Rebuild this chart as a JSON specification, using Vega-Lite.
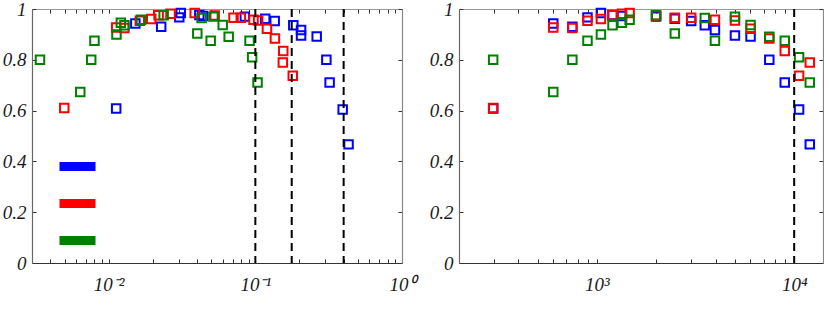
{
  "$schema": "https://vega.github.io/schema/vega-lite/v6.json",
  "autosize": {"type": "pad"},
  "padding": {"left": 2, "top": 0, "right": 0, "bottom": 0},
  "background": "white",
  "bounds": "flush",
  "spacing": 57,
  "config": {
    "view": {"stroke": null},
    "axis": {
      "grid": false,
      "labelFont": "Liberation Serif",
      "labelFontStyle": "italic",
      "labelFontSize": 19,
      "labelColor": "#1a1a1a",
      "labelFlush": false,
      "labelOverlap": false,
      "tickSize": -4,
      "tickColor": "#333333",
      "tickWidth": 1,
      "domainWidth": 1.2
    }
  },
  "datasets": {
    "points": [
      {"s": "Case 1", "ratio": 0.01125, "re": 298, "eff": 0.608},
      {"s": "Case 1", "ratio": 0.0152, "re": 601, "eff": 0.943},
      {"s": "Case 1", "ratio": 0.0228, "re": 751, "eff": 0.93},
      {"s": "Case 1", "ratio": 0.0303, "re": 896, "eff": 0.967},
      {"s": "Case 1", "ratio": 0.031, "re": 1048, "eff": 0.984},
      {"s": "Case 1", "ratio": 0.0415, "re": 1200, "eff": 0.976},
      {"s": "Case 1", "ratio": 0.044, "re": 1340, "eff": 0.972},
      {"s": "Case 1", "ratio": 0.0848, "re": 1995, "eff": 0.97},
      {"s": "Case 1", "ratio": 0.1167, "re": 2483, "eff": 0.962},
      {"s": "Case 1", "ratio": 0.1355, "re": 3006, "eff": 0.953},
      {"s": "Case 1", "ratio": 0.1815, "re": 3524, "eff": 0.936},
      {"s": "Case 1", "ratio": 0.205, "re": 3966, "eff": 0.917},
      {"s": "Case 1", "ratio": 0.205, "re": 5010, "eff": 0.896},
      {"s": "Case 1", "ratio": 0.262, "re": 6010, "eff": 0.892},
      {"s": "Case 1", "ratio": 0.305, "re": 7480, "eff": 0.8},
      {"s": "Case 1", "ratio": 0.321, "re": 8960, "eff": 0.711},
      {"s": "Case 1", "ratio": 0.394, "re": 10590, "eff": 0.604},
      {"s": "Case 1", "ratio": 0.432, "re": 12000, "eff": 0.467},
      {"s": "Case 2", "ratio": 0.00498, "re": 298, "eff": 0.61},
      {"s": "Case 2", "ratio": 0.01125, "re": 601, "eff": 0.927},
      {"s": "Case 2", "ratio": 0.0128, "re": 751, "eff": 0.925},
      {"s": "Case 2", "ratio": 0.0163, "re": 896, "eff": 0.954},
      {"s": "Case 2", "ratio": 0.0195, "re": 1048, "eff": 0.961},
      {"s": "Case 2", "ratio": 0.0219, "re": 1200, "eff": 0.975},
      {"s": "Case 2", "ratio": 0.0264, "re": 1340, "eff": 0.981},
      {"s": "Case 2", "ratio": 0.0386, "re": 1465, "eff": 0.984},
      {"s": "Case 2", "ratio": 0.0528, "re": 1995, "eff": 0.974},
      {"s": "Case 2", "ratio": 0.071, "re": 2483, "eff": 0.966},
      {"s": "Case 2", "ratio": 0.0796, "re": 3006, "eff": 0.966},
      {"s": "Case 2", "ratio": 0.0972, "re": 3966, "eff": 0.958},
      {"s": "Case 2", "ratio": 0.1045, "re": 5010, "eff": 0.955},
      {"s": "Case 2", "ratio": 0.12, "re": 6010, "eff": 0.922},
      {"s": "Case 2", "ratio": 0.136, "re": 7480, "eff": 0.884},
      {"s": "Case 2", "ratio": 0.155, "re": 8960, "eff": 0.835},
      {"s": "Case 2", "ratio": 0.154, "re": 12000, "eff": 0.789},
      {"s": "Case 2", "ratio": 0.18, "re": 10590, "eff": 0.737},
      {"s": "Case 3", "ratio": 0.0034, "re": 298, "eff": 0.8},
      {"s": "Case 3", "ratio": 0.0064, "re": 601, "eff": 0.673},
      {"s": "Case 3", "ratio": 0.0076, "re": 751, "eff": 0.8},
      {"s": "Case 3", "ratio": 0.008, "re": 896, "eff": 0.875},
      {"s": "Case 3", "ratio": 0.0113, "re": 1048, "eff": 0.9},
      {"s": "Case 3", "ratio": 0.0121, "re": 1340, "eff": 0.946},
      {"s": "Case 3", "ratio": 0.0128, "re": 1200, "eff": 0.936},
      {"s": "Case 3", "ratio": 0.0166, "re": 1465, "eff": 0.958},
      {"s": "Case 3", "ratio": 0.0237, "re": 1995, "eff": 0.975},
      {"s": "Case 3", "ratio": 0.0402, "re": 2483, "eff": 0.904},
      {"s": "Case 3", "ratio": 0.043, "re": 3524, "eff": 0.965},
      {"s": "Case 3", "ratio": 0.0496, "re": 3966, "eff": 0.875},
      {"s": "Case 3", "ratio": 0.0518, "re": 5010, "eff": 0.97},
      {"s": "Case 3", "ratio": 0.0599, "re": 6010, "eff": 0.937},
      {"s": "Case 3", "ratio": 0.0658, "re": 7480, "eff": 0.891},
      {"s": "Case 3", "ratio": 0.0913, "re": 8960, "eff": 0.875},
      {"s": "Case 3", "ratio": 0.0951, "re": 10590, "eff": 0.81},
      {"s": "Case 3", "ratio": 0.1035, "re": 12000, "eff": 0.711}
    ],
    "limitsRatio": [{"ratio": 0.1}, {"ratio": 0.177}, {"ratio": 0.4}],
    "limitsRe": [{"re": 10000}]
  },
  "resolve": {"scale": {"color": "independent"}},
  "hconcat": [
    {
      "width": 370,
      "height": 254,
      "resolve": {"axis": {"x": "independent", "y": "independent"}},
      "layer": [
        {
          "data": {"name": "points"},
          "mark": {"type": "point", "shape": "square", "filled": false, "strokeWidth": 2, "size": 72, "opacity": 1},
          "encoding": {
            "x": {
              "field": "ratio", "type": "quantitative",
              "scale": {"type": "log", "domain": [0.003, 1], "nice": false},
              "axis": {
                "orient": "bottom", "title": null, "domainColor": "#333333",
                "values": [0.004, 0.005, 0.006, 0.007, 0.008, 0.009, 0.01, 0.02, 0.03, 0.04, 0.05, 0.06, 0.07, 0.08, 0.09, 0.1, 0.2, 0.3, 0.4, 0.5, 0.6, 0.7, 0.8, 0.9, 1],
                "labelExpr": "abs(datum.value-0.01)<1e-9 ? '10⁻²' : abs(datum.value-0.1)<1e-9 ? '10⁻¹' : abs(datum.value-1)<1e-9 ? '10⁰' : ''",
                "labelPadding": 16, "labelBaseline": "top"
              }
            },
            "y": {
              "field": "eff", "type": "quantitative",
              "scale": {"domain": [0, 1], "nice": false},
              "axis": {
                "orient": "left", "title": null, "domainColor": "#666666",
                "values": [0, 0.2, 0.4, 0.6, 0.8, 1], "format": "~g",
                "labelPadding": 10
              }
            },
            "color": {
              "field": "s", "type": "nominal",
              "scale": {"domain": ["Case 1", "Case 2", "Case 3"], "range": ["#0000ff", "#ff0000", "#008000"]},
              "legend": {
                "orient": "none", "legendX": 29, "legendY": 141,
                "title": null, "padding": 0, "rowPadding": 0,
                "symbolType": "M-1.5,0H1.5", "symbolSize": 576, "symbolStrokeWidth": 9,
                "symbolOpacity": 1, "labelExpr": "''", "labelFontSize": 1
              }
            }
          }
        },
        {
          "data": {"name": "limitsRatio"},
          "mark": {"type": "rule", "color": "black", "strokeWidth": 2, "strokeDash": [8, 5]},
          "encoding": {
            "x": {"field": "ratio", "type": "quantitative", "axis": null}
          }
        },
        {
          "data": {"name": "points"},
          "mark": {"type": "point", "opacity": 0},
          "encoding": {
            "x": {
              "field": "ratio", "type": "quantitative",
              "axis": {
                "orient": "top", "title": null, "labels": false, "domainColor": "#999999",
                "values": [0.004, 0.005, 0.006, 0.007, 0.008, 0.009, 0.01, 0.02, 0.03, 0.04, 0.05, 0.06, 0.07, 0.08, 0.09, 0.1, 0.2, 0.3, 0.4, 0.5, 0.6, 0.7, 0.8, 0.9, 1]
              }
            },
            "y": {
              "field": "eff", "type": "quantitative",
              "axis": {
                "orient": "right", "title": null, "labels": false, "domainColor": "#888888",
                "values": [0, 0.2, 0.4, 0.6, 0.8, 1]
              }
            }
          }
        }
      ]
    },
    {
      "width": 364,
      "height": 254,
      "resolve": {"axis": {"x": "independent", "y": "independent"}},
      "layer": [
        {
          "data": {"name": "points"},
          "mark": {"type": "point", "shape": "square", "filled": false, "strokeWidth": 2, "size": 72, "opacity": 1},
          "encoding": {
            "x": {
              "field": "re", "type": "quantitative",
              "scale": {"type": "log", "domain": [200, 14000], "nice": false},
              "axis": {
                "orient": "bottom", "title": null, "domainColor": "#333333",
                "values": [300, 400, 500, 600, 700, 800, 900, 1000, 2000, 3000, 4000, 5000, 6000, 7000, 8000, 9000, 10000],
                "labelExpr": "abs(datum.value-1000)<1e-6 ? '10³' : abs(datum.value-10000)<1e-6 ? '10⁴' : ''",
                "labelPadding": 16, "labelBaseline": "top"
              }
            },
            "y": {
              "field": "eff", "type": "quantitative",
              "scale": {"domain": [0, 1], "nice": false},
              "axis": {
                "orient": "left", "title": null, "domainColor": "#666666",
                "values": [0, 0.2, 0.4, 0.6, 0.8, 1], "format": "~g",
                "labelPadding": 10
              }
            },
            "color": {
              "field": "s", "type": "nominal",
              "scale": {"domain": ["Case 1", "Case 2", "Case 3"], "range": ["#0000ff", "#ff0000", "#008000"]},
              "legend": null
            }
          }
        },
        {
          "data": {"name": "limitsRe"},
          "mark": {"type": "rule", "color": "black", "strokeWidth": 2, "strokeDash": [8, 5]},
          "encoding": {
            "x": {"field": "re", "type": "quantitative", "axis": null}
          }
        },
        {
          "data": {"name": "points"},
          "mark": {"type": "point", "opacity": 0},
          "encoding": {
            "x": {
              "field": "re", "type": "quantitative",
              "axis": {
                "orient": "top", "title": null, "labels": false, "domainColor": "#999999",
                "values": [300, 400, 500, 600, 700, 800, 900, 1000, 2000, 3000, 4000, 5000, 6000, 7000, 8000, 9000, 10000]
              }
            },
            "y": {
              "field": "eff", "type": "quantitative",
              "axis": {
                "orient": "right", "title": null, "labels": false, "domainColor": "#888888",
                "values": [0, 0.2, 0.4, 0.6, 0.8, 1]
              }
            }
          }
        }
      ]
    }
  ]
}
